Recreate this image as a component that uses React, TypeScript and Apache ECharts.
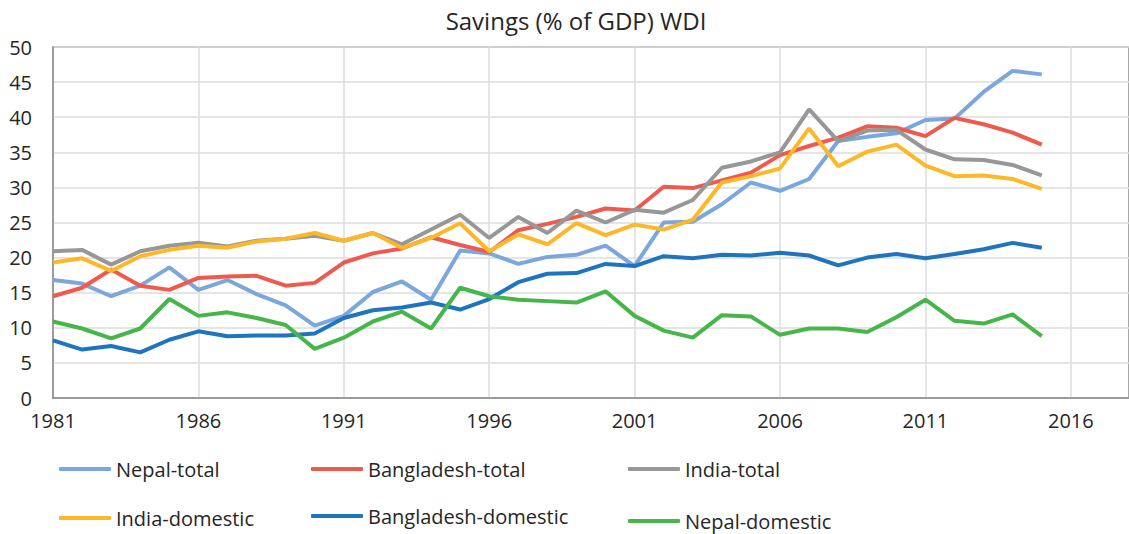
import React, { useEffect, useRef } from "react";
import * as echarts from "echarts";

const years: string[] = [];
for (let y = 1981; y <= 2018; y++) years.push(String(y));

const nepalTotal = [16.8, 16.3, 14.5, 16.0, 18.6, 15.4, 16.8, 14.8, 13.2, 10.3, 11.7, 15.1, 16.6, 14.0, 21.0, 20.6, 19.1, 20.1, 20.4, 21.7, 18.8, 25.0, 25.1, 27.6, 30.7, 29.5, 31.2, 36.6, 37.2, 37.7, 39.6, 39.8, 43.6, 46.6, 46.1];
const bangladeshTotal = [14.5, 15.7, 18.3, 16.0, 15.4, 17.1, 17.3, 17.4, 16.0, 16.4, 19.3, 20.6, 21.3, 22.9, 21.8, 20.8, 23.9, 24.8, 25.8, 27.0, 26.7, 30.1, 29.9, 31.0, 32.1, 34.6, 35.9, 37.1, 38.7, 38.5, 37.3, 39.9, 39.0, 37.8, 36.1];
const indiaTotal = [20.9, 21.1, 19.0, 20.9, 21.7, 22.1, 21.6, 22.4, 22.7, 23.1, 22.4, 23.5, 21.9, 24.0, 26.1, 22.8, 25.8, 23.5, 26.7, 25.0, 26.8, 26.4, 28.2, 32.8, 33.7, 35.0, 41.1, 36.6, 38.1, 38.2, 35.4, 34.0, 33.9, 33.2, 31.7];
const indiaDomestic = [19.3, 19.9, 18.1, 20.2, 21.1, 21.7, 21.4, 22.3, 22.7, 23.5, 22.4, 23.5, 21.4, 22.8, 24.9, 20.9, 23.3, 21.9, 24.9, 23.2, 24.7, 24.0, 25.4, 30.7, 31.6, 32.7, 38.4, 33.0, 35.1, 36.1, 33.1, 31.6, 31.7, 31.2, 29.8];
const bangladeshDomestic = [8.2, 6.9, 7.4, 6.5, 8.3, 9.5, 8.8, 8.9, 8.9, 9.2, 11.4, 12.5, 12.9, 13.6, 12.6, 14.1, 16.5, 17.7, 17.8, 19.1, 18.8, 20.2, 19.9, 20.4, 20.3, 20.7, 20.3, 18.9, 20.0, 20.5, 19.9, 20.5, 21.2, 22.1, 21.4];
const nepalDomestic = [10.9, 9.9, 8.5, 9.9, 14.1, 11.7, 12.2, 11.4, 10.4, 7.0, 8.6, 10.9, 12.3, 9.9, 15.7, 14.5, 14.0, 13.8, 13.6, 15.2, 11.7, 9.6, 8.6, 11.8, 11.6, 9.0, 9.9, 9.9, 9.4, 11.5, 14.0, 11.0, 10.6, 11.9, 8.8];

const seriesNames = ["Nepal-total", "Bangladesh-total", "India-total", "India-domestic", "Bangladesh-domestic", "Nepal-domestic"];
const seriesData = [nepalTotal, bangladeshTotal, indiaTotal, indiaDomestic, bangladeshDomestic, nepalDomestic];
const seriesColors = ["#7ba7dc", "#ef5a4f", "#979797", "#fdb82a", "#1f74be", "#46b64a"];
const legendPos = [
  { left: 54, top: 454 },
  { left: 306, top: 454 },
  { left: 623, top: 454 },
  { left: 54, top: 503 },
  { left: 306, top: 501 },
  { left: 623, top: 506 },
];

const FONT = "Open Sans";

export default function App() {
  const ref = useRef<HTMLDivElement>(null);
  useEffect(() => {
    if (!ref.current) return;
    const chart = echarts.init(ref.current, null, { renderer: "svg" });
    chart.setOption({
      animation: false,
      backgroundColor: "#ffffff",
      title: {
        text: "Savings (% of GDP) WDI",
        left: 571,
        textAlign: "center",
        top: 3,
        textStyle: { fontFamily: FONT, fontSize: 24, fontWeight: "normal", color: "#262626" },
      },
      grid: {
        left: 53,
        top: 47,
        right: -7,
        bottom: 136,
        show: true,
        borderColor: "#8a8a8a",
        borderWidth: 1.5,
      },
      legend: seriesNames.map((n, i) => ({
        data: [n],
        left: legendPos[i].left,
        top: legendPos[i].top,
        icon: "roundRect",
        itemWidth: 52,
        itemHeight: 4,
        itemGap: 5,
        textStyle: { fontFamily: FONT, fontSize: 20, color: "#262626" },
      })),
      xAxis: {
        type: "category",
        data: years,
        boundaryGap: false,
        axisLine: { show: true, lineStyle: { color: "#8a8a8a", width: 1.5 } },
        axisTick: { show: false },
        axisLabel: { interval: 4, fontFamily: FONT, fontSize: 20, color: "#262626", margin: 12 },
        splitLine: { show: true, interval: 4, lineStyle: { color: "#dcdcdc", width: 1.5 } },
      },
      yAxis: {
        type: "value",
        min: 0,
        max: 50,
        interval: 5,
        axisLine: { show: true, lineStyle: { color: "#8a8a8a", width: 1.5 } },
        axisTick: { show: false },
        axisLabel: { fontFamily: FONT, fontSize: 20, color: "#262626", margin: 21 },
        splitLine: { show: true, lineStyle: { color: "#dcdcdc", width: 1.5 } },
      },
      series: seriesNames.map((n, i) => ({
        name: n,
        type: "line",
        data: seriesData[i],
        symbol: "none",
        color: seriesColors[i],
        lineStyle: { width: 4, color: seriesColors[i] },
      })),
    });
    return () => chart.dispose();
  }, []);
  return <div ref={ref} style={{ position: "fixed", left: 0, top: 0, width: 1129, height: 534 }} />;
}
